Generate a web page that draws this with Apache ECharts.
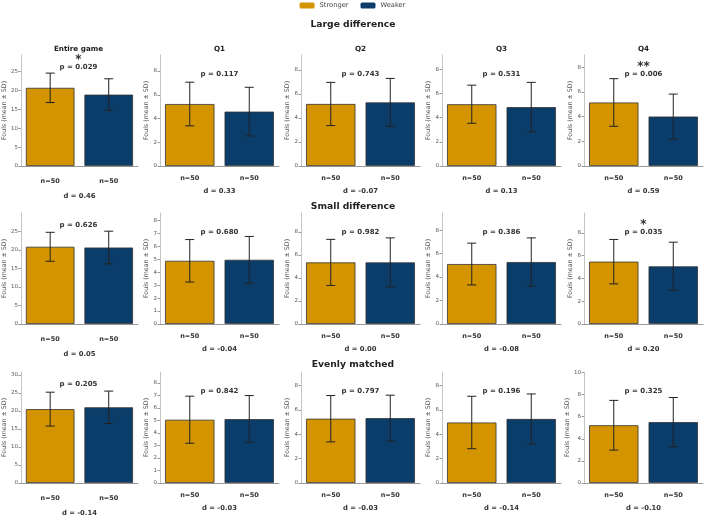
<!DOCTYPE html>
<html>
<head>
<meta charset="utf-8">
<script src="https://cdn.jsdelivr.net/npm/echarts@6/dist/echarts.min.js"></script>
<style>
  html, body { margin: 0; padding: 0; background: #fff; }
  #chart { width: 705px; height: 521px; }
</style>
</head>
<body>
<div id="chart"></div>
<script>
// groups / panels
const groups = ['Stronger', 'Weaker'];
const rowNames = ['Large difference', 'Small difference', 'Evenly matched'];
const periods = ['Entire game', 'Q1', 'Q2', 'Q3', 'Q4'];

// means per period: [stronger, weaker]
const meanLarge = [[20.7, 18.9], [5.22, 4.58], [5.17, 5.30], [5.12, 4.88], [5.15, 4.01]];
const meanSmall = [[20.8, 20.6], [4.88, 4.96], [5.35, 5.35], [5.11, 5.28], [5.47, 5.06]];
const meanEven = [[20.5, 21.0], [5.05, 5.10], [5.27, 5.32], [4.96, 5.25], [5.23, 5.51]];

// standard deviations
const sdLarge = [[3.9, 4.2], [1.84, 2.05], [1.80, 2.00], [1.58, 2.05], [1.93, 1.82]];
const sdSmall = [[3.9, 4.4], [1.64, 1.80], [2.00, 2.13], [1.78, 2.06], [1.95, 2.12]];
const sdEven = [[4.7, 4.5], [1.88, 1.88], [1.90, 1.88], [2.15, 2.05], [2.25, 2.23]];

const nLarge = [[50, 50], [50, 50], [50, 50], [50, 50], [50, 50]];
const nSmall = [[50, 50], [50, 50], [50, 50], [50, 50], [50, 50]];
const nEven = [[50, 50], [50, 50], [50, 50], [50, 50], [50, 50]];

const pLarge = ['0.029', '0.117', '0.743', '0.531', '0.006'];
const pSmall = ['0.626', '0.680', '0.982', '0.386', '0.035'];
const pEven = ['0.205', '0.842', '0.797', '0.196', '0.325'];

const dLarge = ['0.46', '0.33', '-0.07', '0.13', '0.59'];
const dSmall = ['0.05', '-0.04', '0.00', '-0.08', '0.20'];
const dEven = ['-0.14', '-0.03', '-0.03', '-0.14', '-0.10'];

const starLarge = ['*', '', '', '', '**'];
const starSmall = ['', '', '', '', '*'];
const starEven = ['', '', '', '', ''];

// y tick labels per panel
const ticksLarge = [[0, 5, 10, 15, 20, 25], [0, 2, 4, 6, 8], [0, 2, 4, 6, 8], [0, 2, 4, 6, 8], [0, 2, 4, 6, 8]];
const ticksSmall = [[0, 5, 10, 15, 20, 25], [0, 1, 2, 3, 4, 5, 6, 7, 8], [0, 2, 4, 6, 8], [0, 2, 4, 6, 8], [0, 2, 4, 6, 8]];
const ticksEven = [[0, 5, 10, 15, 20, 25, 30], [0, 1, 2, 3, 4, 5, 6, 7, 8], [0, 2, 4, 6, 8], [0, 2, 4, 6, 8], [0, 2, 4, 6, 8, 10]];

// axis upper limits
const yMaxLarge = [29.4, 9.35, 9.25, 9.2, 9.0];
const yMaxSmall = [29.9, 8.57, 9.64, 9.46, 9.74];
const yMaxEven = [30.8, 8.86, 9.1, 9.1, 10.05];

const rows = [
  { mean: meanLarge, sd: sdLarge, n: nLarge, p: pLarge, d: dLarge, star: starLarge, ticks: ticksLarge, yMax: yMaxLarge },
  { mean: meanSmall, sd: sdSmall, n: nSmall, p: pSmall, d: dSmall, star: starSmall, ticks: ticksSmall, yMax: yMaxSmall },
  { mean: meanEven, sd: sdEven, n: nEven, p: pEven, d: dEven, star: starEven, ticks: ticksEven, yMax: yMaxEven }
];

const colors = ['#d39400', '#0b3d6b'];
const FONT = 'DejaVu Sans';

// layout
const rowTops = [55, 213, 372];
const rowTitleY = [25, 207, 365];
const rowH = 111;
const colLefts = [19, 160, 301, 442, 584];
const colW = 119;

const grid = [], xAxis = [], yAxis = [], series = [], graphic = [];

rowNames.forEach((name, r) => {
  graphic.push({
    type: 'text',
    style: { text: name, x: 353, y: rowTitleY[r], textAlign: 'center', textVerticalAlign: 'middle',
      font: 'bold 9.2px ' + FONT, fill: '#222' }
  });
});

rows.forEach((row, r) => {
  periods.forEach((period, c) => {
    const gi = grid.length;
    const isGame = c === 0;
    grid.push({ left: colLefts[c], top: rowTops[r], width: colW, height: rowH });
    xAxis.push({
      gridIndex: gi,
      type: 'category',
      data: groups,
      axisLine: { lineStyle: { color: '#9a9a9a', width: 1.2 } },
      axisTick: { show: false },
      axisLabel: {
        formatter: (v, i) => 'n=' + row.n[c][i],
        fontFamily: FONT, fontWeight: 'bold', fontSize: 6.5, color: '#333',
        margin: isGame ? 12 : 9
      },
      name: 'd = ' + row.d[c],
      nameLocation: 'middle',
      nameGap: isGame ? 27 : 22,
      nameTextStyle: { fontFamily: FONT, fontWeight: 'bold', fontSize: 6.8, color: '#333' }
    });
    yAxis.push({
      gridIndex: gi,
      type: 'value',
      min: 0,
      max: row.yMax[c],
      splitLine: { show: false },
      axisLine: { show: true, lineStyle: { color: '#b5b5b5', width: 0.8 } },
      axisTick: { show: true, length: 2.5, lineStyle: { color: '#999' }, customValues: row.ticks[c] },
      axisLabel: { fontFamily: FONT, fontSize: 5.5, color: '#555', margin: 3, customValues: row.ticks[c] },
      name: 'Fouls (mean ± SD)',
      nameLocation: 'middle',
      nameRotate: 90,
      nameGap: 11,
      nameTextStyle: { fontFamily: FONT, fontSize: 6.3, color: '#555' }
    });
    groups.forEach((g, k) => {
      series.push({
        name: g,
        type: 'bar',
        xAxisIndex: gi,
        yAxisIndex: gi,
        barWidth: '83%',
        barGap: '-100%',
        silent: true,
        itemStyle: { color: colors[k], borderColor: '#333', borderWidth: 0.8 },
        data: groups.map((_, i) => (i === k ? row.mean[c][i] : '-'))
      });
    });
    series.push({
      type: 'custom',
      xAxisIndex: gi,
      yAxisIndex: gi,
      silent: true,
      z: 5,
      data: groups.map((_, i) => [i, row.mean[c][i], row.sd[c][i]]),
      renderItem: (params, api) => {
        const x = api.value(0), m = api.value(1), s = api.value(2);
        const top = api.coord([x, m + s]);
        const bot = api.coord([x, m - s]);
        const hw = 4.5;
        const st = { stroke: '#222', lineWidth: 1 };
        return {
          type: 'group',
          children: [
            { type: 'line', shape: { x1: top[0], y1: top[1], x2: bot[0], y2: bot[1] }, style: st },
            { type: 'line', shape: { x1: top[0] - hw, y1: top[1], x2: top[0] + hw, y2: top[1] }, style: st },
            { type: 'line', shape: { x1: bot[0] - hw, y1: bot[1], x2: bot[0] + hw, y2: bot[1] }, style: st }
          ]
        };
      }
    });

    const cx = colLefts[c] + colW / 2;
    const pY = rowTops[r] + (isGame ? 12 : 19);
    graphic.push({
      type: 'text',
      style: { text: 'p = ' + row.p[c], x: cx, y: pY, textAlign: 'center', textVerticalAlign: 'middle',
        font: 'bold 7px ' + FONT, fill: '#333' }
    });
    if (row.star[c]) {
      graphic.push({
        type: 'text',
        style: { text: row.star[c], x: cx, y: pY - 7, textAlign: 'center', textVerticalAlign: 'middle',
          font: 'bold 12px ' + FONT, fill: '#333' }
      });
    }
    if (r === 0) {
      graphic.push({
        type: 'text',
        style: { text: period, x: cx, y: rowTops[0] - 6, textAlign: 'center', textVerticalAlign: 'middle',
          font: 'bold 7.2px ' + FONT, fill: '#222' }
      });
    }
  });
});

const chart = echarts.init(document.getElementById('chart'), null, { renderer: 'canvas' });
chart.setOption({
  animation: false,
  backgroundColor: '#fff',
  legend: {
    data: groups,
    top: 0,
    left: 'center',
    padding: [2, 5],
    itemWidth: 15,
    itemHeight: 6,
    itemGap: 12,
    selectedMode: false,
    itemStyle: { borderWidth: 0 },
    textStyle: { fontFamily: FONT, fontSize: 6.7, color: '#444' }
  },
  grid,
  xAxis,
  yAxis,
  series,
  graphic
});
</script>
</body>
</html>
